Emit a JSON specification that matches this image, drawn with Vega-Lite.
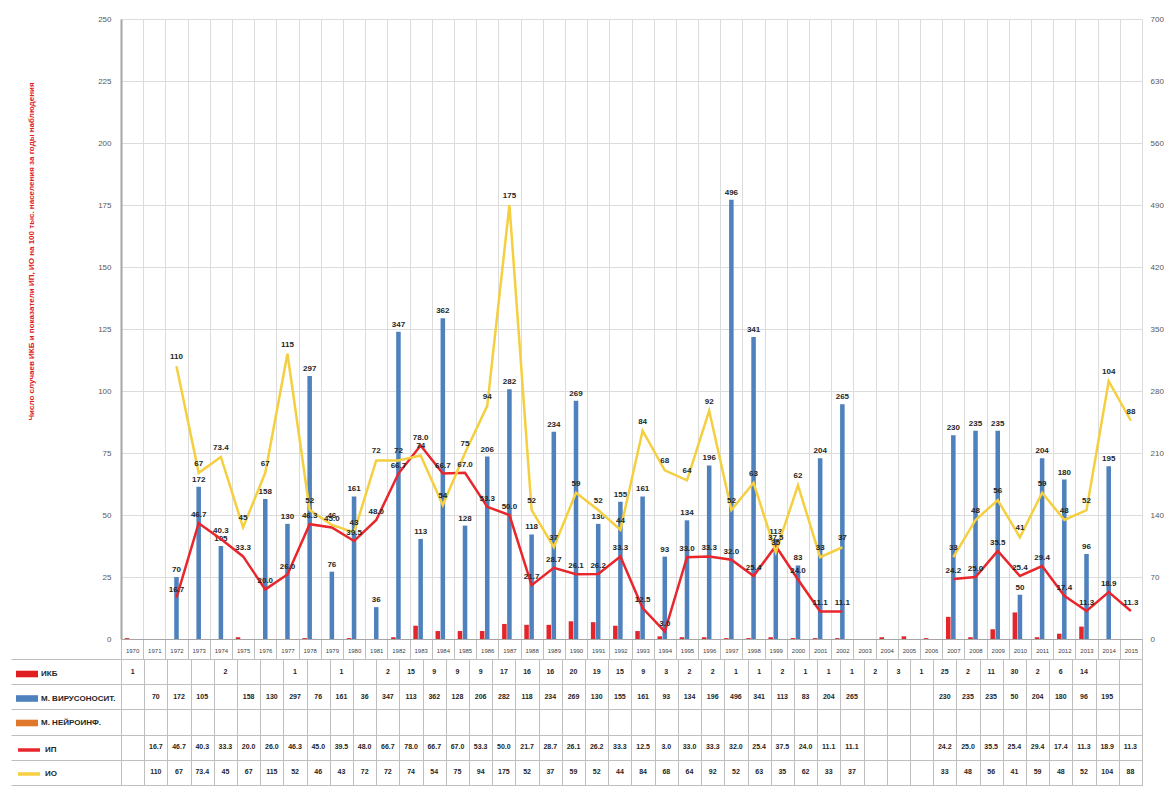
{
  "$schema": "https://vega.github.io/schema/vega-lite/v6.json",
  "padding": {"left": 10, "top": 15, "right": 0, "bottom": 0},
  "config": {"font": "Liberation Sans", "view": {"stroke": null}},
  "data": {"values": [
    {"year":"1970","ikb":1},
    {"year":"1971"},
    {"year":"1972","m1":70,"ip":16.7,"io":110},
    {"year":"1973","m1":172,"ip":46.7,"io":67},
    {"year":"1974","m1":105,"ip":40.3,"io":73.4},
    {"year":"1975","ikb":2,"ip":33.3,"io":45},
    {"year":"1976","m1":158,"ip":20,"io":67},
    {"year":"1977","m1":130,"ip":26,"io":115},
    {"year":"1978","ikb":1,"m1":297,"ip":46.3,"io":52},
    {"year":"1979","m1":76,"ip":45,"io":46},
    {"year":"1980","ikb":1,"m1":161,"ip":39.5,"io":43},
    {"year":"1981","m1":36,"ip":48,"io":72},
    {"year":"1982","ikb":2,"m1":347,"ip":66.7,"io":72},
    {"year":"1983","ikb":15,"m1":113,"ip":78,"io":74},
    {"year":"1984","ikb":9,"m1":362,"ip":66.7,"io":54},
    {"year":"1985","ikb":9,"m1":128,"ip":67,"io":75},
    {"year":"1986","ikb":9,"m1":206,"ip":53.3,"io":94},
    {"year":"1987","ikb":17,"m1":282,"ip":50,"io":175},
    {"year":"1988","ikb":16,"m1":118,"ip":21.7,"io":52},
    {"year":"1989","ikb":16,"m1":234,"ip":28.7,"io":37},
    {"year":"1990","ikb":20,"m1":269,"ip":26.1,"io":59},
    {"year":"1991","ikb":19,"m1":130,"ip":26.2,"io":52},
    {"year":"1992","ikb":15,"m1":155,"ip":33.3,"io":44},
    {"year":"1993","ikb":9,"m1":161,"ip":12.5,"io":84},
    {"year":"1994","ikb":3,"m1":93,"ip":3,"io":68},
    {"year":"1995","ikb":2,"m1":134,"ip":33,"io":64},
    {"year":"1996","ikb":2,"m1":196,"ip":33.3,"io":92},
    {"year":"1997","ikb":1,"m1":496,"ip":32,"io":52},
    {"year":"1998","ikb":1,"m1":341,"ip":25.4,"io":63},
    {"year":"1999","ikb":2,"m1":113,"ip":37.5,"io":35},
    {"year":"2000","ikb":1,"m1":83,"ip":24,"io":62},
    {"year":"2001","ikb":1,"m1":204,"ip":11.1,"io":33},
    {"year":"2002","ikb":1,"m1":265,"ip":11.1,"io":37},
    {"year":"2003"},
    {"year":"2004","ikb":2},
    {"year":"2005","ikb":3},
    {"year":"2006","ikb":1},
    {"year":"2007","ikb":25,"m1":230,"ip":24.2,"io":33},
    {"year":"2008","ikb":2,"m1":235,"ip":25,"io":48},
    {"year":"2009","ikb":11,"m1":235,"ip":35.5,"io":56},
    {"year":"2010","ikb":30,"m1":50,"ip":25.4,"io":41},
    {"year":"2011","ikb":2,"m1":204,"ip":29.4,"io":59},
    {"year":"2012","ikb":6,"m1":180,"ip":17.4,"io":48},
    {"year":"2013","ikb":14,"m1":96,"ip":11.3,"io":52},
    {"year":"2014","m1":195,"ip":18.9,"io":104},
    {"year":"2015","ip":11.3,"io":88}
  ]},
  "bounds": "flush",
  "spacing": 20,
  "resolve": {
    "scale": {"color": "independent", "stroke": "independent"},
    "legend": {"color": "independent", "stroke": "independent"}
  },
  "vconcat": [
    {
      "width": 1021,
      "height": 620,
      "view": {"stroke": null},
      "encoding": {
        "x": {
          "field": "year", "type": "ordinal",
          "scale": {"paddingInner": 0, "paddingOuter": 0},
          "axis": {
            "title": null, "labelFontSize": 6, "labelColor": "#404040", "labelAngle": 0,
            "labelPadding": -12, "labelOverlap": false, "labelBound": false,
            "tickBand": "extent", "tickSize": 20, "tickColor": "#bfbfbf",
            "grid": true, "gridColor": "#dcdcdc", "domainColor": "#a6a6a6"
          }
        }
      },
      "layer": [
        {
          "transform": [{"fold": ["ikb", "m1"], "as": ["key", "val"]}],
          "encoding": {
            "y": {
              "field": "val", "type": "quantitative",
              "scale": {"domain": [0, 700], "nice": false},
              "axis": {
                "orient": "right", "values": [0,70,140,210,280,350,420,490,560,630,700],
                "title": null, "grid": false, "domain": false, "ticks": false,
                "labelFontSize": 8, "labelColor": "#595959", "labelPadding": 8
              }
            }
          },
          "layer": [
            {
              "mark": {"type": "bar"},
              "encoding": {
                "xOffset": {"field": "key", "type": "nominal", "scale": {"domain": ["ikb", "m1", "m2"], "paddingInner": 0.1, "paddingOuter": 0.75}},
                "color": {"field": "key", "type": "nominal", "scale": {"domain": ["ikb","m1","m2","ip","io"], "range": ["#e3262b","#4f81bd","#e0782c","#e8262c","#f4cf40"]}, "legend": null}
              }
            },
            {
              "transform": [{"filter": "datum.key === 'm1' && isValid(datum.val)"}],
              "mark": {"type": "text", "dy": -7, "fontSize": 8, "fontWeight": "bold", "color": "#262626"},
              "encoding": {"text": {"field": "val", "type": "quantitative"}}
            }
          ]
        },
        {
          "transform": [{"fold": ["ip", "io"], "as": ["key", "val"]}],
          "encoding": {
            "y": {
              "field": "val", "type": "quantitative",
              "scale": {"domain": [0, 250], "nice": false},
              "axis": {
                "orient": "left", "values": [0,25,50,75,100,125,150,175,200,225,250],
                "title": "Число случаев ИКБ и показатели ИП, ИО на 100 тыс. населения за годы наблюдения",
                "grid": true, "gridColor": "#dcdcdc", "ticks": false,
                "domain": true, "domainColor": "#a6a6a6", "domainWidth": 2,
                "labelFontSize": 8, "labelColor": "#595959", "labelPadding": 10,
                "titleColor": "#e0201b", "titleFontSize": 8, "titleFontWeight": "bold",
                "titleX": -90, "titleY": 232, "titleAngle": 270, "titleAlign": "center", "titleBaseline": "middle"
              }
            }
          },
          "layer": [
            {
              "mark": {"type": "line", "strokeWidth": 2.5, "invalid": "break-paths-show-domains"},
              "encoding": {
                "color": {"field": "key", "type": "nominal", "scale": {"domain": ["ikb","m1","m2","ip","io"], "range": ["#e3262b","#4f81bd","#e0782c","#e8262c","#f4cf40"]}, "legend": null},
                "detail": {"field": "key"}
              }
            },
            {
              "transform": [{"filter": "datum.key === 'io' && isValid(datum.val)"}],
              "mark": {"type": "text", "dy": -9, "fontSize": 8, "fontWeight": "bold", "color": "#262626"},
              "encoding": {"text": {"field": "val", "type": "quantitative"}}
            },
            {
              "transform": [{"filter": "datum.key === 'ip' && isValid(datum.val)"}],
              "mark": {"type": "text", "dy": -8, "fontSize": 8, "fontWeight": "bold", "color": "#262626"},
              "encoding": {"text": {"field": "val", "type": "quantitative", "format": ".1f"}}
            }
          ]
        }
      ],
      "resolve": {"scale": {"y": "independent"}}
    },
    {
      "width": 1021,
      "height": 126,
      "view": {"stroke": "#bfbfbf"},
      "encoding": {
        "x": {
          "field": "year", "type": "ordinal",
          "scale": {"paddingInner": 0, "paddingOuter": 0},
          "axis": {"title": null, "labels": false, "ticks": false, "domain": false, "grid": true, "gridColor": "#bfbfbf", "tickBand": "extent"}
        },
        "y": {
          "field": "key", "type": "nominal",
          "scale": {"domain": ["ikb","m1","m2","ip","io"], "paddingInner": 0, "paddingOuter": 0},
          "axis": {"title": null, "labels": false, "ticks": true, "tickSize": 110, "tickColor": "#bfbfbf", "tickBand": "extent", "grid": true, "gridColor": "#bfbfbf", "domain": false}
        }
      },
      "layer": [
        {
          "transform": [{"fold": ["ikb", "m1", "io"], "as": ["key", "val"]}, {"filter": "isValid(datum.val)"}],
          "mark": {"type": "text", "fontSize": 7, "fontWeight": "bold", "color": "#262626"},
          "encoding": {"text": {"field": "val", "type": "quantitative"}}
        },
        {
          "transform": [{"fold": ["ip"], "as": ["key", "val"]}, {"filter": "isValid(datum.val)"}],
          "mark": {"type": "text", "fontSize": 7, "fontWeight": "bold", "color": "#262626"},
          "encoding": {"text": {"field": "val", "type": "quantitative", "format": ".1f"}}
        },
        {
          "transform": [{"fold": ["ikb", "m1"], "as": ["key", "val"]}, {"filter": "false"}],
          "mark": {"type": "bar"},
          "encoding": {
            "color": {
              "field": "key", "type": "nominal",
              "scale": {"domain": ["ikb", "m1", "m2"], "range": ["#e02020", "#4f81bd", "#e0782c"]},
              "legend": {
                "orient": "none", "legendX": -105, "legendY": 4, "title": null,
                "symbolType": "M-1,-0.3H1V0.3H-1Z", "symbolSize": 484, "symbolStrokeWidth": 0, "symbolOpacity": 1,
                "labelFontSize": 8, "labelFontWeight": "bold", "labelColor": "#262626",
                "rowPadding": 9.5, "padding": 0, "labelOffset": 3,
                "labelExpr": "datum.label === 'ikb' ? 'ИКБ' : datum.label === 'm1' ? 'М. ВИРУСОНОСИТ.' : 'М. НЕЙРОИНФ.'"
              }
            }
          }
        },
        {
          "transform": [{"fold": ["ip", "io"], "as": ["key", "val"]}, {"filter": "false"}],
          "mark": {"type": "line", "strokeWidth": 3.5},
          "encoding": {
            "stroke": {
              "field": "key", "type": "nominal",
              "scale": {"domain": ["ip", "io"], "range": ["#e8262c", "#f4cf40"]},
              "legend": {
                "orient": "none", "legendX": -105, "legendY": 78, "title": null,
                "symbolType": "stroke", "symbolSize": 484, "symbolStrokeWidth": 3.5, "symbolOpacity": 1,
                "labelFontSize": 8, "labelFontWeight": "bold", "labelColor": "#262626",
                "rowPadding": 4, "padding": 0, "labelOffset": 3,
                "labelExpr": "datum.label === 'ip' ? 'ИП' : 'ИО'"
              }
            }
          }
        }
      ]
    }
  ]
}
